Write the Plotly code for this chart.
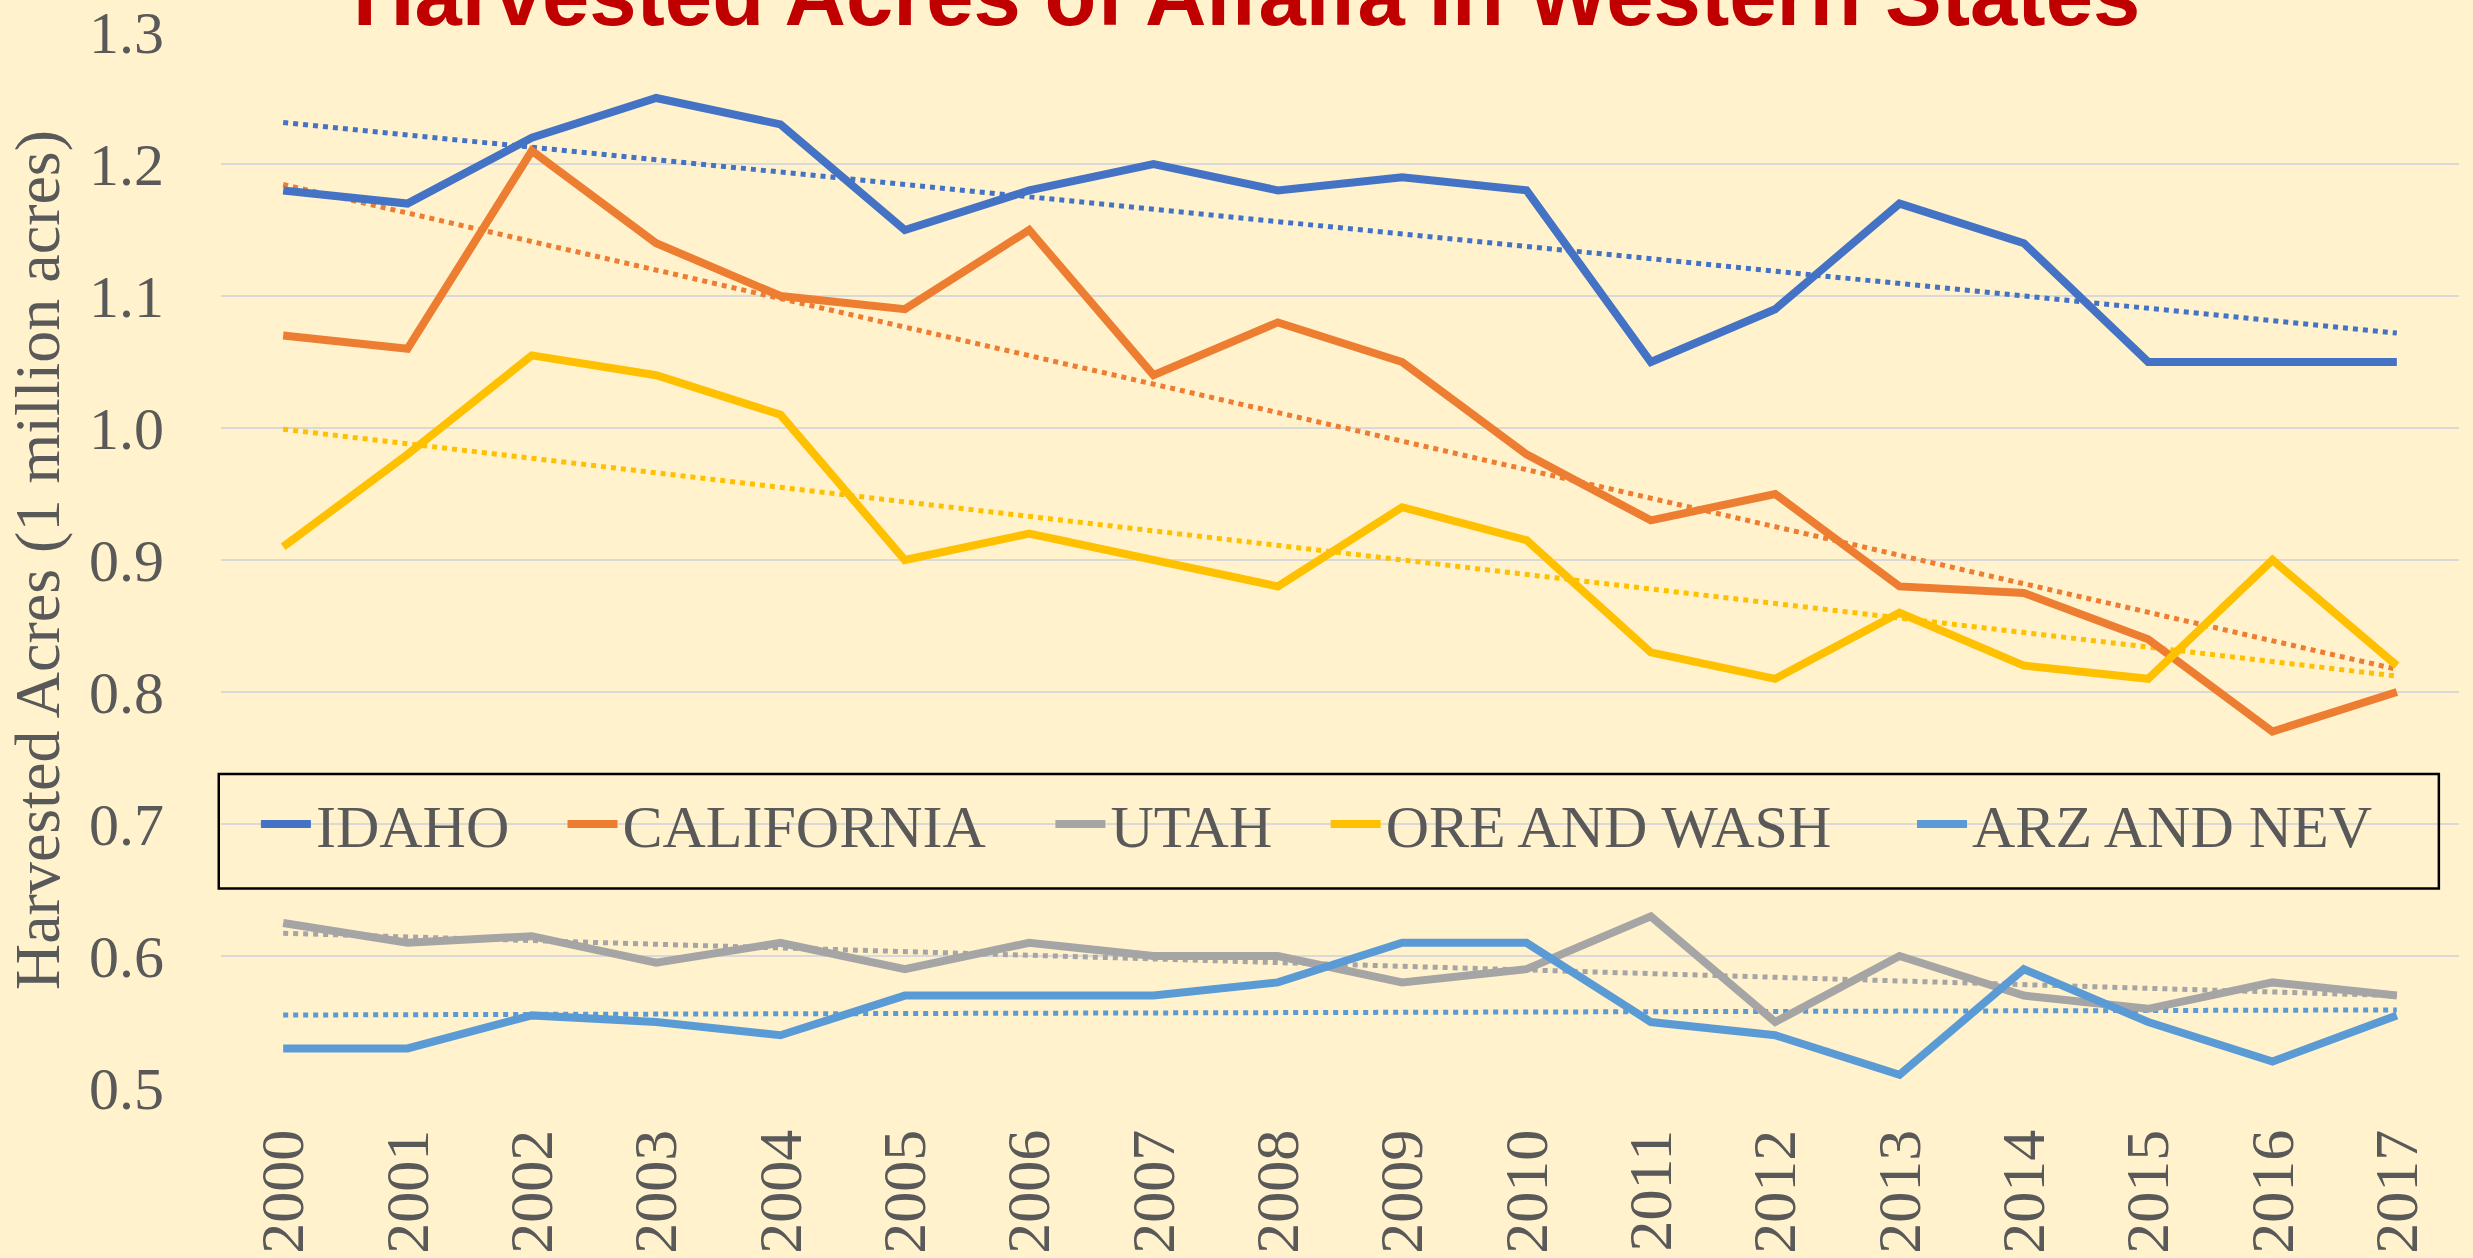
import numpy as np
import plotly.graph_objects as go

years = [str(y) for y in range(2000, 2018)]

idaho = [1.18, 1.17, 1.22, 1.25, 1.23, 1.15, 1.18, 1.20, 1.18, 1.19, 1.18, 1.05, 1.09, 1.17, 1.14, 1.05, 1.05, 1.05]
california = [1.07, 1.06, 1.21, 1.14, 1.10, 1.09, 1.15, 1.04, 1.08, 1.05, 0.98, 0.93, 0.95, 0.88, 0.875, 0.84, 0.77, 0.80]
utah = [0.625, 0.61, 0.615, 0.595, 0.61, 0.59, 0.61, 0.60, 0.60, 0.58, 0.59, 0.63, 0.55, 0.60, 0.57, 0.56, 0.58, 0.57]
ore_wash = [0.91, 0.98, 1.055, 1.04, 1.01, 0.90, 0.92, 0.90, 0.88, 0.94, 0.915, 0.83, 0.81, 0.86, 0.82, 0.81, 0.90, 0.82]
arz_nev = [0.53, 0.53, 0.555, 0.55, 0.54, 0.57, 0.57, 0.57, 0.58, 0.61, 0.61, 0.55, 0.54, 0.51, 0.59, 0.55, 0.52, 0.555]

series_names = ["IDAHO", "CALIFORNIA", "UTAH", "ORE AND WASH", "ARZ AND NEV"]
series_values = [idaho, california, utah, ore_wash, arz_nev]
series_colors = ["#4472C4", "#ED7D31", "#A5A5A5", "#FFC000", "#5B9BD5"]

title_text = "Harvested Acres of Alfalfa in Western States"
y_title = "Harvested Acres (1 million acres)"

BG = "#FFF2CC"
GRAY = "#595959"
SERIF = "Liberation Serif, Times New Roman, serif"

# legend entry left edges (paper fraction of plot width)
legend_x = [0.0156, 0.1526, 0.3706, 0.4936, 0.7556]
legend_ids = ["legend", "legend2", "legend3", "legend4", "legend5"]

fig = go.Figure()

idx = np.arange(len(years))
# trendlines (linear least squares, like Excel trendlines)
for name, vals, col in zip(series_names, series_values, series_colors):
    m, b = np.polyfit(idx, np.array(vals), 1)
    fig.add_trace(go.Scatter(
        x=years, y=list(m * idx + b), mode="lines",
        line=dict(color=col, width=5, dash="dot"),
        showlegend=False, hoverinfo="skip"))

for name, vals, col, lid in zip(series_names, series_values, series_colors, legend_ids):
    fig.add_trace(go.Scatter(
        x=years, y=vals, mode="lines", name=name, legend=lid,
        line=dict(color=col, width=8)))

legend_style = dict(
    orientation="h", xanchor="left", y=0.25, yanchor="middle",
    bgcolor="rgba(0,0,0,0)", font=dict(family=SERIF, size=60, color=GRAY),
    itemwidth=50)
legends = {}
for lid, lx in zip(legend_ids, legend_x):
    legends[lid] = dict(legend_style, x=lx)

fig.update_layout(
    width=2473, height=1258,
    paper_bgcolor=BG, plot_bgcolor=BG,
    margin=dict(l=221, r=14, t=32, b=170, autoexpand=False),
    font=dict(family=SERIF, color=GRAY, size=60),
    showlegend=True,
    xaxis=dict(
        type="category", range=[-0.5, 17.5], showgrid=False, zeroline=False,
        automargin=False, ticklabeloverflow="allow",
        tickangle=-90, ticks="outside", ticklen=16, tickcolor="rgba(0,0,0,0)",
        tickfont=dict(family=SERIF, size=62, color=GRAY), showline=False),
    yaxis=dict(
        range=[0.5, 1.3], dtick=0.1, tickformat=".1f", showgrid=True,
        gridcolor="#D9D9D9", gridwidth=2, zeroline=False, automargin=False,
        ticklabeloverflow="allow",
        ticks="outside", ticklen=44, tickcolor="rgba(0,0,0,0)",
        tickfont=dict(family=SERIF, size=60, color=GRAY),
        title=dict(text=y_title, font=dict(family=SERIF, size=64, color=GRAY), standoff=8)),
    shapes=[dict(type="rect", xref="paper", yref="paper",
                 x0=-0.001, x1=0.991, y0=0.189, y1=0.2973,
                 line=dict(color="black", width=2.5), fillcolor="rgba(0,0,0,0)",
                 layer="above")],
    annotations=[dict(
        text="<b>" + title_text + "</b>", xref="paper", yref="paper",
        x=0.458, y=1, xanchor="center", yanchor="bottom", yshift=-13,
        showarrow=False,
        font=dict(family="Liberation Sans, Arial, sans-serif", size=85, color="#C00000"))],
    **legends,
)

fig.write_html("out.html", config={"displayModeBar": False},
               post_script="document.body.style.margin='0';document.body.style.overflow='hidden';")
